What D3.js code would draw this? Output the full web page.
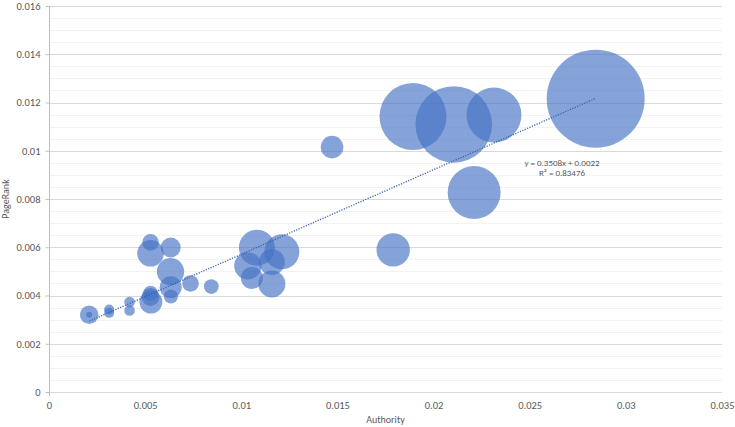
<!DOCTYPE html>
<html>
<head>
<meta charset="utf-8">
<script src="https://cdn.jsdelivr.net/npm/d3@7"></script>
<style>
  html, body { margin: 0; padding: 0; background: #fff; }
  svg { display: block; }
  text { font-family: Calibri, Carlito, "Liberation Sans Narrow", Lato, sans-serif; fill: #595959; }
</style>
</head>
<body>
<svg id="chart" width="735" height="427"></svg>
<script>
// ---- data ----
const authority = [0.00209, 0.00209, 0.00313, 0.00313, 0.00419, 0.00419,
  0.00528, 0.00528, 0.00528, 0.00528, 0.0053, 0.00633, 0.00632, 0.00633, 0.00634,
  0.00736, 0.00844, 0.01081, 0.01211, 0.01034, 0.01055, 0.01159, 0.01159,
  0.0179, 0.01472, 0.01893, 0.02105, 0.02314, 0.02211, 0.02843];
const pageRank = [0.0032, 0.0032, 0.00342, 0.00328, 0.00373, 0.00338,
  0.0062, 0.00575, 0.00409, 0.00394, 0.00373, 0.00599, 0.00499, 0.00434, 0.00396,
  0.0045, 0.00437, 0.00598, 0.00581, 0.00523, 0.00473, 0.00448, 0.00539,
  0.00589, 0.01015, 0.01142, 0.01109, 0.01148, 0.00827, 0.01216];
const bubbleSize = [3.6, 0.37, 1.04, 1.04, 1.17, 1.17,
  2.87, 7.37, 2.34, 3.37, 5.5, 4.16, 7.8, 5.04, 2.04,
  2.87, 2.28, 13.5, 12.75, 7.8, 5.04, 7.6, 7.04,
  11.6, 5.3, 46.7, 61.1, 31.5, 29.2, 100];
const xTicks = [0, 0.005, 0.01, 0.015, 0.02, 0.025, 0.03, 0.035];
const yTicks = [0, 0.002, 0.004, 0.006, 0.008, 0.01, 0.012, 0.014, 0.016];
const trendSlope = 0.3508;
const trendIntercept = 0.0022;
const trendLabel = ["y = 0.3508x + 0.0022", "R\u00B2 = 0.83476"];
const xTitle = "Authority";
const yTitle = "PageRank";

(function () {
// ---- layout ----
const svg = d3.select("#chart");
const mL = 49, mR = 722, mT = 6, mB = 392;
const x = d3.scaleLinear().domain([0, 0.035]).range([mL, mR]);
const y = d3.scaleLinear().domain([0, 0.016]).range([mB, mT]);
const r = d3.scaleSqrt().domain([0, d3.max(bubbleSize)]).range([0, 49]);
const fontFam = "Calibri, Carlito, 'Liberation Sans Narrow', Lato, sans-serif";

// minor gridlines
const minor = d3.range(0, 0.01600001, 0.0005).filter(v => Math.abs(Math.round(v / 0.002) * 0.002 - v) > 1e-9);
svg.append("g").selectAll("line").data(minor).join("line")
  .attr("x1", mL).attr("x2", mR)
  .attr("y1", d => Math.round(y(d)) + 0.5).attr("y2", d => Math.round(y(d)) + 0.5)
  .attr("stroke", "#F2F2F2").attr("stroke-width", 1);

// major gridlines
svg.append("g").selectAll("line").data(yTicks).join("line")
  .attr("x1", mL).attr("x2", mR)
  .attr("y1", d => Math.round(y(d)) + 0.5).attr("y2", d => Math.round(y(d)) + 0.5)
  .attr("stroke", "#D9D9D9").attr("stroke-width", 1);

// y axis
const yAxis = d3.axisLeft(y).tickValues(yTicks).tickSize(4).tickPadding(5)
  .tickFormat(d => d === 0 ? "0" : String(+d.toFixed(3)));
const gy = svg.append("g").attr("transform", `translate(${mL + 0.5},0)`).call(yAxis);
gy.select(".domain").attr("stroke", "#BFBFBF").attr("d", `M0,${mT}V${mB + 4}`);
gy.selectAll(".tick line").attr("stroke", "#BFBFBF");
gy.selectAll(".tick text").style("font-size", "10.5px").attr("fill", "#595959")
  .style("font-family", fontFam);

// x axis
const xAxis = d3.axisBottom(x).tickValues(xTicks).tickSize(0).tickPadding(10)
  .tickFormat(d => d === 0 ? "0" : String(+d.toFixed(3)));
const gx = svg.append("g").attr("transform", `translate(0,${mB})`).call(xAxis);
gx.select(".domain").remove();
gx.selectAll(".tick text").style("font-size", "10.5px").attr("fill", "#595959")
  .style("font-family", fontFam);

// bubbles
const pts = authority.map((a, i) => ({ x: a, y: pageRank[i], s: bubbleSize[i] }));
svg.append("g").selectAll("circle").data(pts).join("circle")
  .attr("cx", d => x(d.x)).attr("cy", d => y(d.y)).attr("r", d => r(d.s))
  .attr("fill", "#4472C4").attr("fill-opacity", 0.65);

// trend line
const xMin = d3.min(authority), xMax = d3.max(authority);
svg.append("line")
  .attr("x1", x(xMin)).attr("y1", y(trendSlope * xMin + trendIntercept))
  .attr("x2", x(xMax)).attr("y2", y(trendSlope * xMax + trendIntercept))
  .attr("stroke", "#3A62AE").attr("stroke-width", 1.3)
  .attr("stroke-dasharray", "1.2,1.4");

// trend label
const lab = svg.append("text").attr("text-anchor", "middle").style("font-size", "9px").attr("fill", "#404040");
trendLabel.forEach((t, i) => lab.append("tspan").attr("x", 562).attr("y", 166 + i * 10).text(t));

// axis titles
svg.append("text").attr("x", (mL + mR) / 2).attr("y", 423).attr("text-anchor", "middle")
  .style("font-size", "10px").text(xTitle);
svg.append("text").attr("transform", `translate(9,${(mT + mB) / 2}) rotate(-90)`)
  .attr("text-anchor", "middle").style("font-size", "10px").text(yTitle);
})();
</script>
</body>
</html>
